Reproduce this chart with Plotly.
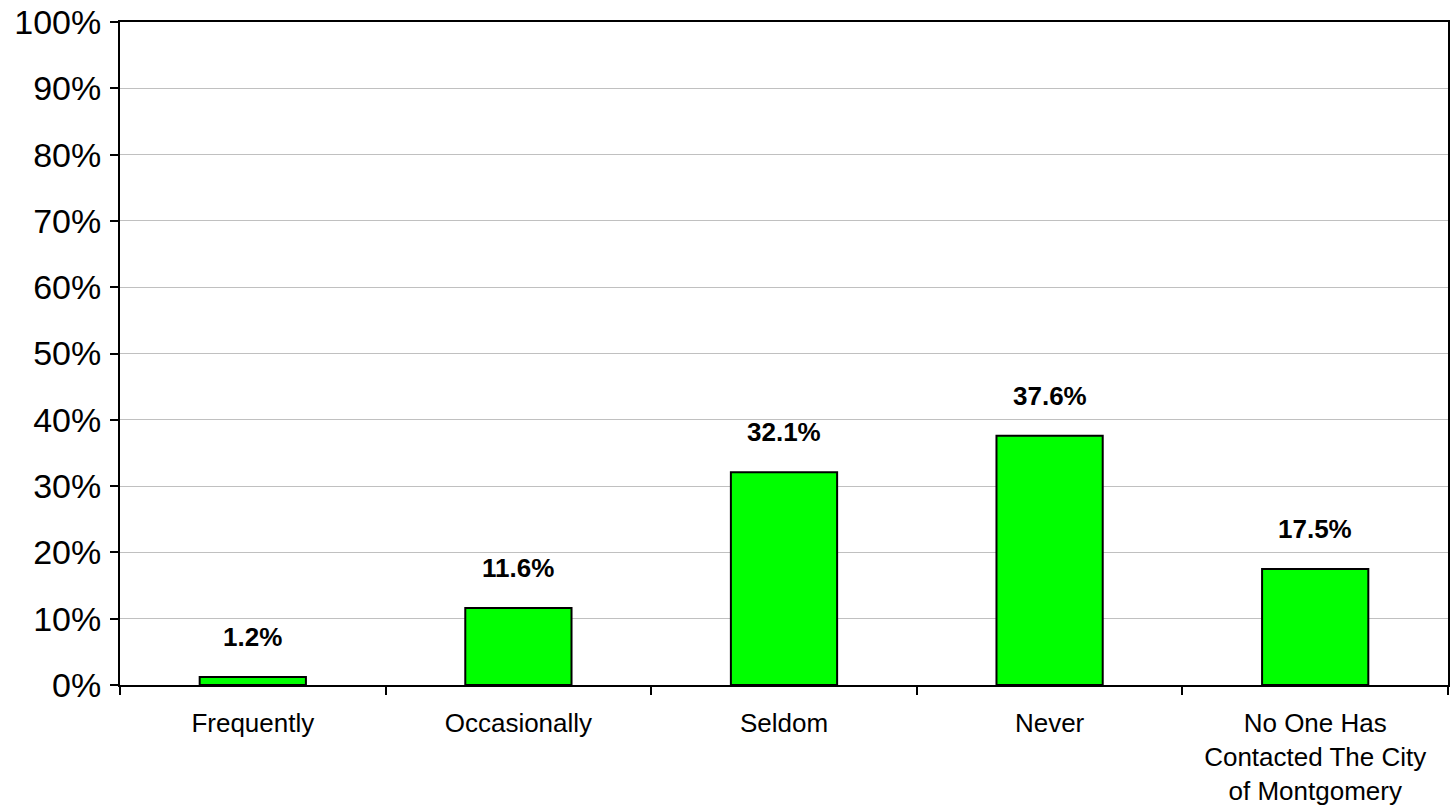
import plotly.graph_objects as go

# Survey responses: how often the city was contacted
categories = [
    "Frequently",
    "Occasionally",
    "Seldom",
    "Never",
    "No One Has<br>Contacted The City<br>of Montgomery",
]
percentages = [1.2, 11.6, 32.1, 37.6, 17.5]
y_ticks = list(range(0, 101, 10))
y_tick_labels = [f"{t}%" for t in y_ticks]

fig = go.Figure(
    go.Bar(
        x=categories,
        y=percentages,
        width=0.4,
        marker=dict(color="#00FF00", line=dict(color="#000000", width=2)),
        hoverinfo="x+y",
    )
)

# Bold value labels floating above each bar
for cat, val in zip(categories, percentages):
    fig.add_annotation(
        x=cat,
        y=val,
        text=f"<b>{val:.1f}%</b>",
        showarrow=False,
        yanchor="bottom",
        yshift=23,
        font=dict(family="Arial, Liberation Sans, sans-serif", size=26, color="#000000"),
    )

fig.update_layout(
    width=1454,
    height=810,
    margin=dict(l=120, r=6, t=22, b=125),
    paper_bgcolor="#FFFFFF",
    plot_bgcolor="#FFFFFF",
    showlegend=False,
    font=dict(family="Arial, Liberation Sans, sans-serif", color="#000000"),
)

fig.update_xaxes(
    type="category",
    automargin=False,
    showline=True,
    linecolor="#000000",
    linewidth=2,
    mirror=True,
    ticks="outside",
    tickson="boundaries",
    ticklen=8,
    tickwidth=1.5,
    tickcolor="#000000",
    showgrid=False,
    tickfont=dict(size=26, color="#000000"),
    ticklabelstandoff=14,
)

fig.update_yaxes(
    range=[0, 100],
    automargin=False,
    tickvals=y_ticks,
    ticktext=y_tick_labels,
    showline=True,
    linecolor="#000000",
    linewidth=2,
    mirror=True,
    ticks="outside",
    ticklen=8,
    tickwidth=1.5,
    tickcolor="#000000",
    showgrid=True,
    gridcolor="#C0C0C0",
    gridwidth=1,
    zeroline=False,
    tickfont=dict(size=34, color="#000000"),
    ticklabelstandoff=2,
)

fig.write_html("out.html")
